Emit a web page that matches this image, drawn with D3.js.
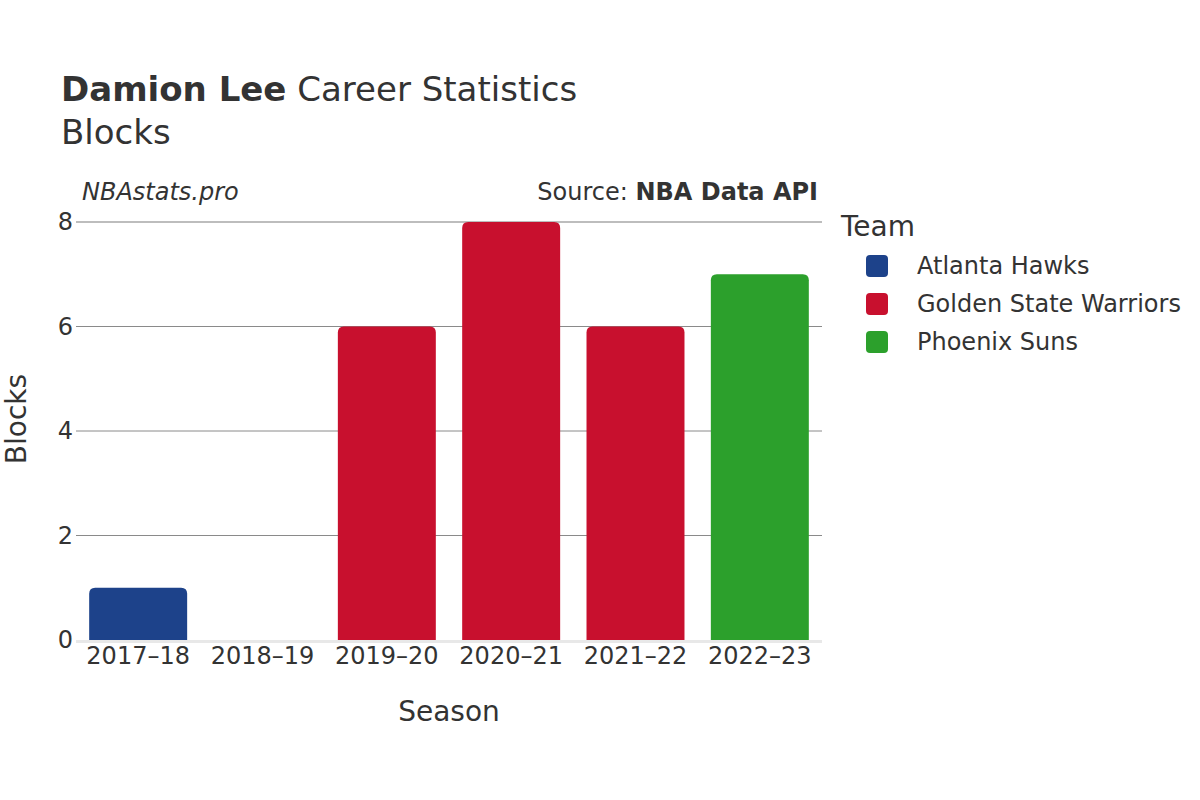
<!DOCTYPE html>
<html><head><meta charset="utf-8">
<script src="https://cdn.jsdelivr.net/npm/d3@7"></script>
<style>body{margin:0;background:#fff}text{font-family:"DejaVu Sans",sans-serif;fill:#333}</style>
</head><body>
<svg id="c" width="1200" height="800"></svg>
<script>
const seasons = ["2017–18","2018–19","2019–20","2020–21","2021–22","2022–23"];
const blocks = [1,0,6,8,6,7];
const teamOf = ["Atlanta Hawks","Atlanta Hawks","Golden State Warriors","Golden State Warriors","Golden State Warriors","Phoenix Suns"];
const teams = ["Atlanta Hawks","Golden State Warriors","Phoenix Suns"];
const teamColors = ["#1d428a","#c8102e","#2ca02c"];
const yTicks = [0,2,4,6,8];

const svg = d3.select("#c");
const x = d3.scaleBand().domain(seasons).range([76,822]).paddingInner(0.212).paddingOuter(0.106);
const y = d3.scaleLinear().domain([0,8]).range([640,222]);
const color = d3.scaleOrdinal().domain(teams).range(teamColors);

// gridlines
svg.append("g").selectAll("line").data(yTicks.filter(d=>d>0)).join("line")
  .attr("x1",76).attr("x2",822).attr("y1",d=>y(d)).attr("y2",d=>y(d))
  .attr("stroke",d=>d===8?"#bdbdbd":"#8a8a8a").attr("stroke-width",d=>d===8?2:1);
// zero line
svg.append("line").attr("x1",76).attr("x2",822).attr("y1",y(0)+1.5).attr("y2",y(0)+1.5)
  .attr("stroke","#e8e8e8").attr("stroke-width",3);

// bars with rounded top
const r = 6;
function barPath(x0,w,yt,yb){
  const h = yb-yt; const rr = Math.min(r,h/2,w/2);
  if(h<=0) return "";
  return `M${x0},${yb}V${yt+rr}Q${x0},${yt} ${x0+rr},${yt}H${x0+w-rr}Q${x0+w},${yt} ${x0+w},${yt+rr}V${yb}Z`;
}
svg.append("g").selectAll("path").data(seasons).join("path")
  .attr("d",(s,i)=>barPath(x(s),x.bandwidth(),y(blocks[i]),y(0)))
  .attr("fill",(s,i)=>color(teamOf[i]));

// y axis
const ya = svg.append("g").attr("transform","translate(76,0)")
  .call(d3.axisLeft(y).tickValues(yTicks).tickSize(0).tickPadding(3));
ya.select(".domain").remove();
ya.selectAll("text").attr("font-size",24).attr("fill","#333").style("font-family","DejaVu Sans");

// x axis
const xa = svg.append("g").attr("transform","translate(0,640)")
  .call(d3.axisBottom(x).tickSize(0).tickPadding(7));
xa.select(".domain").remove();
xa.selectAll("text").attr("font-size",24).attr("fill","#333").style("font-family","DejaVu Sans");

// titles
const t = svg.append("text").attr("x",61).attr("y",101).attr("font-size",34);
t.append("tspan").attr("font-weight","bold").text("Damion Lee");
t.append("tspan").text(" Career Statistics");
svg.append("text").attr("x",61).attr("y",144).attr("font-size",34).text("Blocks");

svg.append("text").attr("x",82).attr("y",200).attr("font-size",24).attr("font-style","italic").text("NBAstats.pro");
const src = svg.append("text").attr("x",818).attr("y",200).attr("font-size",24).attr("text-anchor","end");
src.append("tspan").text("Source: ");
src.append("tspan").attr("font-weight","bold").text("NBA Data API");

svg.append("text").attr("x",449).attr("y",721).attr("font-size",28).attr("text-anchor","middle").text("Season");
svg.append("text").attr("transform","translate(26,419) rotate(-90)").attr("font-size",28).attr("text-anchor","middle").text("Blocks");

// legend
svg.append("text").attr("x",841).attr("y",236).attr("font-size",28).text("Team");
const lg = svg.append("g").selectAll("g").data(teams).join("g")
  .attr("transform",(d,i)=>`translate(0,${266+i*38})`);
lg.append("rect").attr("x",866).attr("y",-11).attr("width",22).attr("height",22).attr("rx",4)
  .attr("fill",d=>color(d));
lg.append("text").attr("x",917).attr("y",8).attr("font-size",24).text(d=>d);
</script>
</body></html>
